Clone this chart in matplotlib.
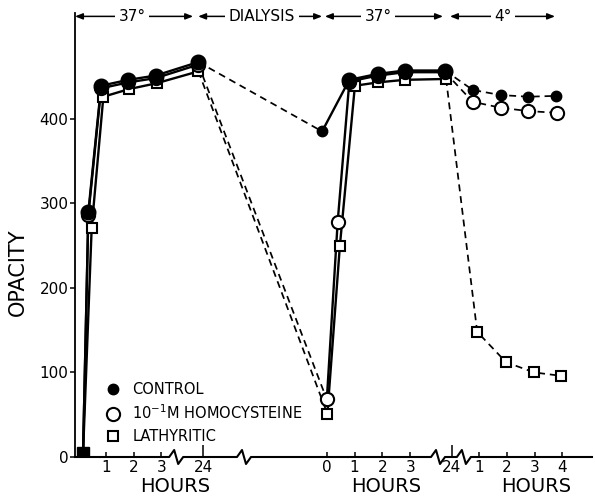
import matplotlib
matplotlib.use("Agg")
import matplotlib.pyplot as plt
from matplotlib.lines import Line2D

plt.rcParams["font.family"] = ["DejaVu Sans"]
plt.rcParams["lines.scale_dashes"] = False

# x values are positions along the broken time axis (1 unit = 1 hour in the
# short segments; the "24 hr" points sit after a break)
ctrl_x = [0.18, 0.37, 0.83, 1.81, 2.79, 4.33, 8.78, 9.76, 10.78, 11.76, 13.20, 14.20, 15.20, 16.20, 17.18]
ctrl_y = [5, 290, 439, 446, 451, 467, 385, 446, 453, 457, 457, 434, 428, 426, 427]

homo_x = [0.18, 0.37, 0.83, 1.81, 2.79, 4.33, 8.95, 9.34, 9.76, 10.78, 11.76, 13.20, 14.20, 15.20, 16.20, 17.22]
homo_y = [5, 286, 436, 443, 448, 464, 68, 278, 444, 451, 455, 455, 420, 413, 409, 407]

lath_x = [0.18, 0.49, 0.91, 1.83, 2.83, 4.33, 8.97, 9.42, 9.96, 10.80, 11.76, 13.24, 14.36, 15.40, 16.41, 17.37]
lath_y = [5, 271, 426, 435, 442, 456, 51, 250, 439, 443, 446, 447, 148, 112, 100, 96]

tick_pos = [1.0, 2.0, 3.0, 4.5, 8.95, 9.95, 10.95, 11.95, 13.45, 14.42, 15.43, 16.43, 17.42]
tick_labels = ["1", "2", "3", "24", "0", "1", "2", "3", "24", "1", "2", "3", "4"]
long_ticks = [3, 8]
break_pos = [3.53, 5.97, 12.95, 13.88]

# (start, end, label, label position)
phases = [
    (-0.11, 4.14, "37°", 1.94),
    (4.32, 8.78, "DIALYSIS", 6.62),
    (8.88, 13.13, "37°", 10.79),
    (13.38, 17.16, "4°", 15.29),
]
hours_pos = [3.49, 11.1, 16.5]

fig = plt.figure(figsize=(5.95, 4.98), dpi=100)
ax = fig.add_axes([75 / 595, 41 / 498, 517 / 595, 444 / 498])
ax.set_xlim(-0.11, 18.49)
ax.set_ylim(0, 525)

LW = 1.7
DASH = (5, 3.5)


def draw_series(x, y, solid_a, dash_a, solid_b, dash_b):
    ax.plot(x[:solid_a + 1], y[:solid_a + 1], color="black", lw=LW, zorder=2)
    ax.plot(x[solid_a:dash_a + 1], y[solid_a:dash_a + 1], color="black", lw=1.25,
            dashes=DASH, zorder=2)
    ax.plot(x[dash_a:solid_b + 1], y[dash_a:solid_b + 1], color="black", lw=LW, zorder=2)
    ax.plot(x[solid_b:dash_b + 1], y[solid_b:dash_b + 1], color="black", lw=1.25,
            dashes=DASH, zorder=2)


draw_series(lath_x, lath_y, 5, 6, 11, 15)
draw_series(homo_x, homo_y, 5, 6, 11, 15)
draw_series(ctrl_x, ctrl_y, 5, 6, 10, 14)

# markers: squares, then circles, then dots on top
ax.plot(lath_x[1:], lath_y[1:], ls="none", marker="s", ms=7, mfc="white",
        mec="black", mew=1.5, zorder=3)
ax.plot(homo_x[1:], homo_y[1:], ls="none", marker="o", ms=9.5, mfc="white",
        mec="black", mew=1.5, zorder=4)
big = [1, 2, 3, 4, 5, 7, 8, 9, 10]
small = [6, 11, 12, 13, 14]
ax.plot(ctrl_x, ctrl_y, ls="none", marker="o", ms=10.5, color="black",
        markevery=big, zorder=5)
ax.plot(ctrl_x, ctrl_y, ls="none", marker="o", ms=7.5, color="black",
        markevery=small, zorder=5)
ax.plot(lath_x[:1], lath_y[:1], ls="none", marker="s", ms=8, color="black", zorder=5)

# axes styling
ax.spines["top"].set_visible(False)
ax.spines["right"].set_visible(False)
ax.spines["bottom"].set_visible(False)
ax.spines["left"].set_linewidth(1.3)

ax.set_yticks([0, 100, 200, 300, 400])
ax.set_yticklabels(["0", "100", "200", "300", "400"], fontsize=11)
ax.tick_params(axis="y", direction="out", length=3.6, width=1.1, pad=1)

ax.set_xticks(tick_pos)
ax.set_xticklabels(tick_labels, fontsize=11)
ax.tick_params(axis="x", direction="in", length=3.6, width=1.1, pad=2)
for i in long_ticks:
    ax.xaxis.get_major_ticks()[i].tick1line.set_markersize(8.6)

# broken baseline
zig = [(-7, 0), (-2, 7), (2, -7), (7, 0)]
pts = [(-0.11, 0)]
for c in break_pos:
    cx, cy = ax.transData.transform((c, 0))
    for dx, dy in zig:
        pts.append(tuple(ax.transData.inverted().transform((cx + dx, cy + dy))))
pts.append((18.49, 0))
ax.plot([p[0] for p in pts], [p[1] for p in pts], color="black", lw=1.5,
        clip_on=False, zorder=6)

# phase annotations along the top
ytop = 521
for x0, x1, label, tx in phases:
    for end in (x0, x1):
        ax.annotate("", xy=(end, ytop), xytext=(tx, ytop),
                    arrowprops=dict(arrowstyle="-|>,head_length=0.45,head_width=0.18",
                                    color="black", lw=1.1, shrinkA=0, shrinkB=0),
                    annotation_clip=False)
    ax.text(tx, ytop, label, ha="center", va="center", fontsize=11,
            bbox=dict(fc="white", ec="none", pad=2.5), zorder=7)

for hx in hours_pos:
    ax.text(hx, -30 / 0.846, "HOURS", ha="center", va="center", fontsize=14,
            transform=ax.transData, clip_on=False)

fig.text(18 / 595, 1 - 272 / 498, "OPACITY", rotation=90, ha="center",
         va="center", fontsize=15)

handles = [
    Line2D([], [], ls="none", marker="o", ms=7.5, color="black"),
    Line2D([], [], ls="none", marker="o", ms=9.5, mfc="white", mec="black", mew=1.5),
    Line2D([], [], ls="none", marker="s", ms=7, mfc="white", mec="black", mew=1.5),
]
labels = ["CONTROL", "10$^{-1}$M HOMOCYSTEINE", "LATHYRITIC"]
ax.legend(handles, labels, loc="upper left", bbox_to_anchor=(106 / 595, 1 - 382 / 498),
          bbox_transform=fig.transFigure, frameon=False, fontsize=10.5,
          handlelength=1.0, handletextpad=0.8, labelspacing=0.45, borderpad=0,
          borderaxespad=0)

fig.savefig("out.png", dpi=100)
